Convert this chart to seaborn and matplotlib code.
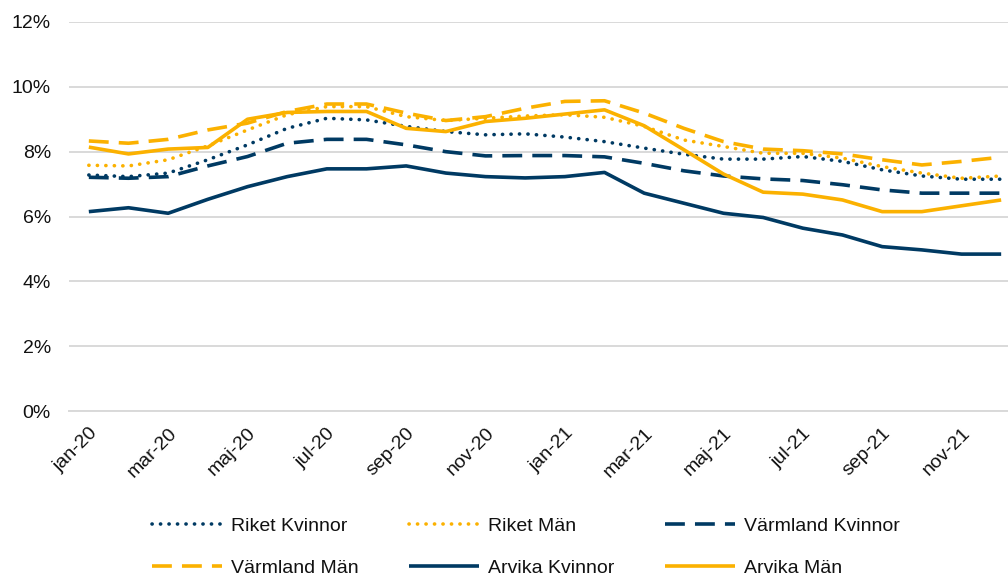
import numpy as np
import pandas as pd
import matplotlib
matplotlib.use("Agg")
import matplotlib.pyplot as plt
import seaborn as sns

# Months jan-20 .. dec-21
MONTHS = ["jan", "feb", "mar", "apr", "maj", "jun", "jul", "aug", "sep", "okt", "nov", "dec"]
month_labels = [f"{m}-{y}" for y in ("20", "21") for m in MONTHS]

riket_kvinnor = [7.28, 7.23, 7.34, 7.75, 8.21, 8.72, 9.03, 8.98, 8.78, 8.62, 8.52, 8.55,
                 8.45, 8.31, 8.11, 7.92, 7.77, 7.77, 7.85, 7.70, 7.44, 7.25, 7.15, 7.15]
riket_man = [7.58, 7.56, 7.75, 8.18, 8.67, 9.14, 9.39, 9.39, 9.08, 8.96, 9.03, 9.10,
             9.14, 9.06, 8.78, 8.36, 8.16, 7.95, 7.95, 7.80, 7.54, 7.34, 7.18, 7.25]
varmland_kvinnor = [7.21, 7.18, 7.23, 7.56, 7.85, 8.26, 8.38, 8.38, 8.21, 8.00, 7.87, 7.88,
                    7.88, 7.84, 7.64, 7.41, 7.25, 7.16, 7.11, 6.98, 6.82, 6.72, 6.72, 6.72]
varmland_man = [8.33, 8.26, 8.38, 8.67, 8.88, 9.24, 9.47, 9.47, 9.19, 8.96, 9.08, 9.34,
                9.55, 9.57, 9.19, 8.72, 8.31, 8.08, 8.03, 7.93, 7.75, 7.59, 7.70, 7.83]
arvika_kvinnor = [6.15, 6.27, 6.10, 6.53, 6.92, 7.23, 7.47, 7.47, 7.56, 7.34, 7.23, 7.19,
                  7.23, 7.36, 6.72, 6.41, 6.10, 5.97, 5.64, 5.43, 5.07, 4.97, 4.84, 4.84]
arvika_man = [8.14, 7.93, 8.08, 8.13, 9.00, 9.21, 9.24, 9.24, 8.72, 8.62, 8.93, 9.03,
              9.16, 9.29, 8.80, 8.06, 7.31, 6.75, 6.69, 6.51, 6.15, 6.15, 6.33, 6.51]

NAVY = "#003A63"
GOLD = "#FBB100"
DOT = (0, (0.05, 2.3))
DASH = (0, (5.5, 2.8))

series = [
    ("Riket Kvinnor", riket_kvinnor, NAVY, DOT),
    ("Riket Män", riket_man, GOLD, DOT),
    ("Värmland Kvinnor", varmland_kvinnor, NAVY, DASH),
    ("Värmland Män", varmland_man, GOLD, DASH),
    ("Arvika Kvinnor", arvika_kvinnor, NAVY, "-"),
    ("Arvika Män", arvika_man, GOLD, "-"),
]

sns.set_style("white")
plt.rcParams["font.family"] = ["Liberation Sans", "DejaVu Sans"]
plt.rcParams["text.color"] = "#111111"
plt.rcParams["xtick.labelcolor"] = "#111111"
plt.rcParams["ytick.labelcolor"] = "#111111"
FS = 14

fig = plt.figure(figsize=(10.08, 5.75), dpi=100)
ax = fig.add_axes([69 / 1008, 1 - 411 / 575, 952 / 1008, 389 / 575])

x = np.arange(len(month_labels))
handles = {}
for name, vals, color, ls in series:
    df = pd.DataFrame({"x": x, "v": np.array(vals) / 100})
    cap = "round" if ls == DOT else "butt"
    sns.lineplot(data=df, x="x", y="v", ax=ax, color=color, linestyle=ls,
                 linewidth=2.6, dash_capstyle=cap, solid_capstyle="butt",
                 label=name, legend=False)
    handles[name] = ax.lines[-1]

ax.set_xlim(-0.5, 23.5)
ax.set_ylim(0, 0.12)
yt = np.arange(0, 0.121, 0.02)
ax.set_yticks(yt)
ax.set_yticklabels([f"{int(round(v * 100))}%" for v in yt], fontsize=FS)
ax.yaxis.grid(True, color="#D9D9D9", linewidth=1.4)
ax.set_axisbelow(True)
ax.tick_params(axis="y", length=0, pad=13)

ax.set_xticks(x[::2])
ax.set_xticklabels(month_labels[::2], fontsize=FS, rotation=45, ha="right",
                   rotation_mode="anchor")
ax.set_xticks(np.arange(-0.5, 23.6, 2), minor=True)
ax.tick_params(axis="x", which="major", length=0, pad=10)
ax.tick_params(axis="x", which="minor", length=5, color="#D9D9D9", width=1.4)
ax.set_xlabel("")
ax.set_ylabel("")

for s in ["top", "right", "left"]:
    ax.spines[s].set_visible(False)
ax.spines["bottom"].set_color("#D9D9D9")
ax.spines["bottom"].set_linewidth(1.4)

# legend fills column-wise, so reorder to read row-wise like the original
order = ["Riket Kvinnor", "Värmland Män", "Riket Män", "Arvika Kvinnor",
         "Värmland Kvinnor", "Arvika Män"]
fig.legend([handles[n] for n in order], order, ncol=3, loc="center",
           bbox_to_anchor=(526 / 1008, 1 - 547 / 575), frameon=False, fontsize=FS,
           handlelength=3.6, handletextpad=0.45, columnspacing=2.6, labelspacing=1.25)

fig.savefig("out.png", dpi=100)
